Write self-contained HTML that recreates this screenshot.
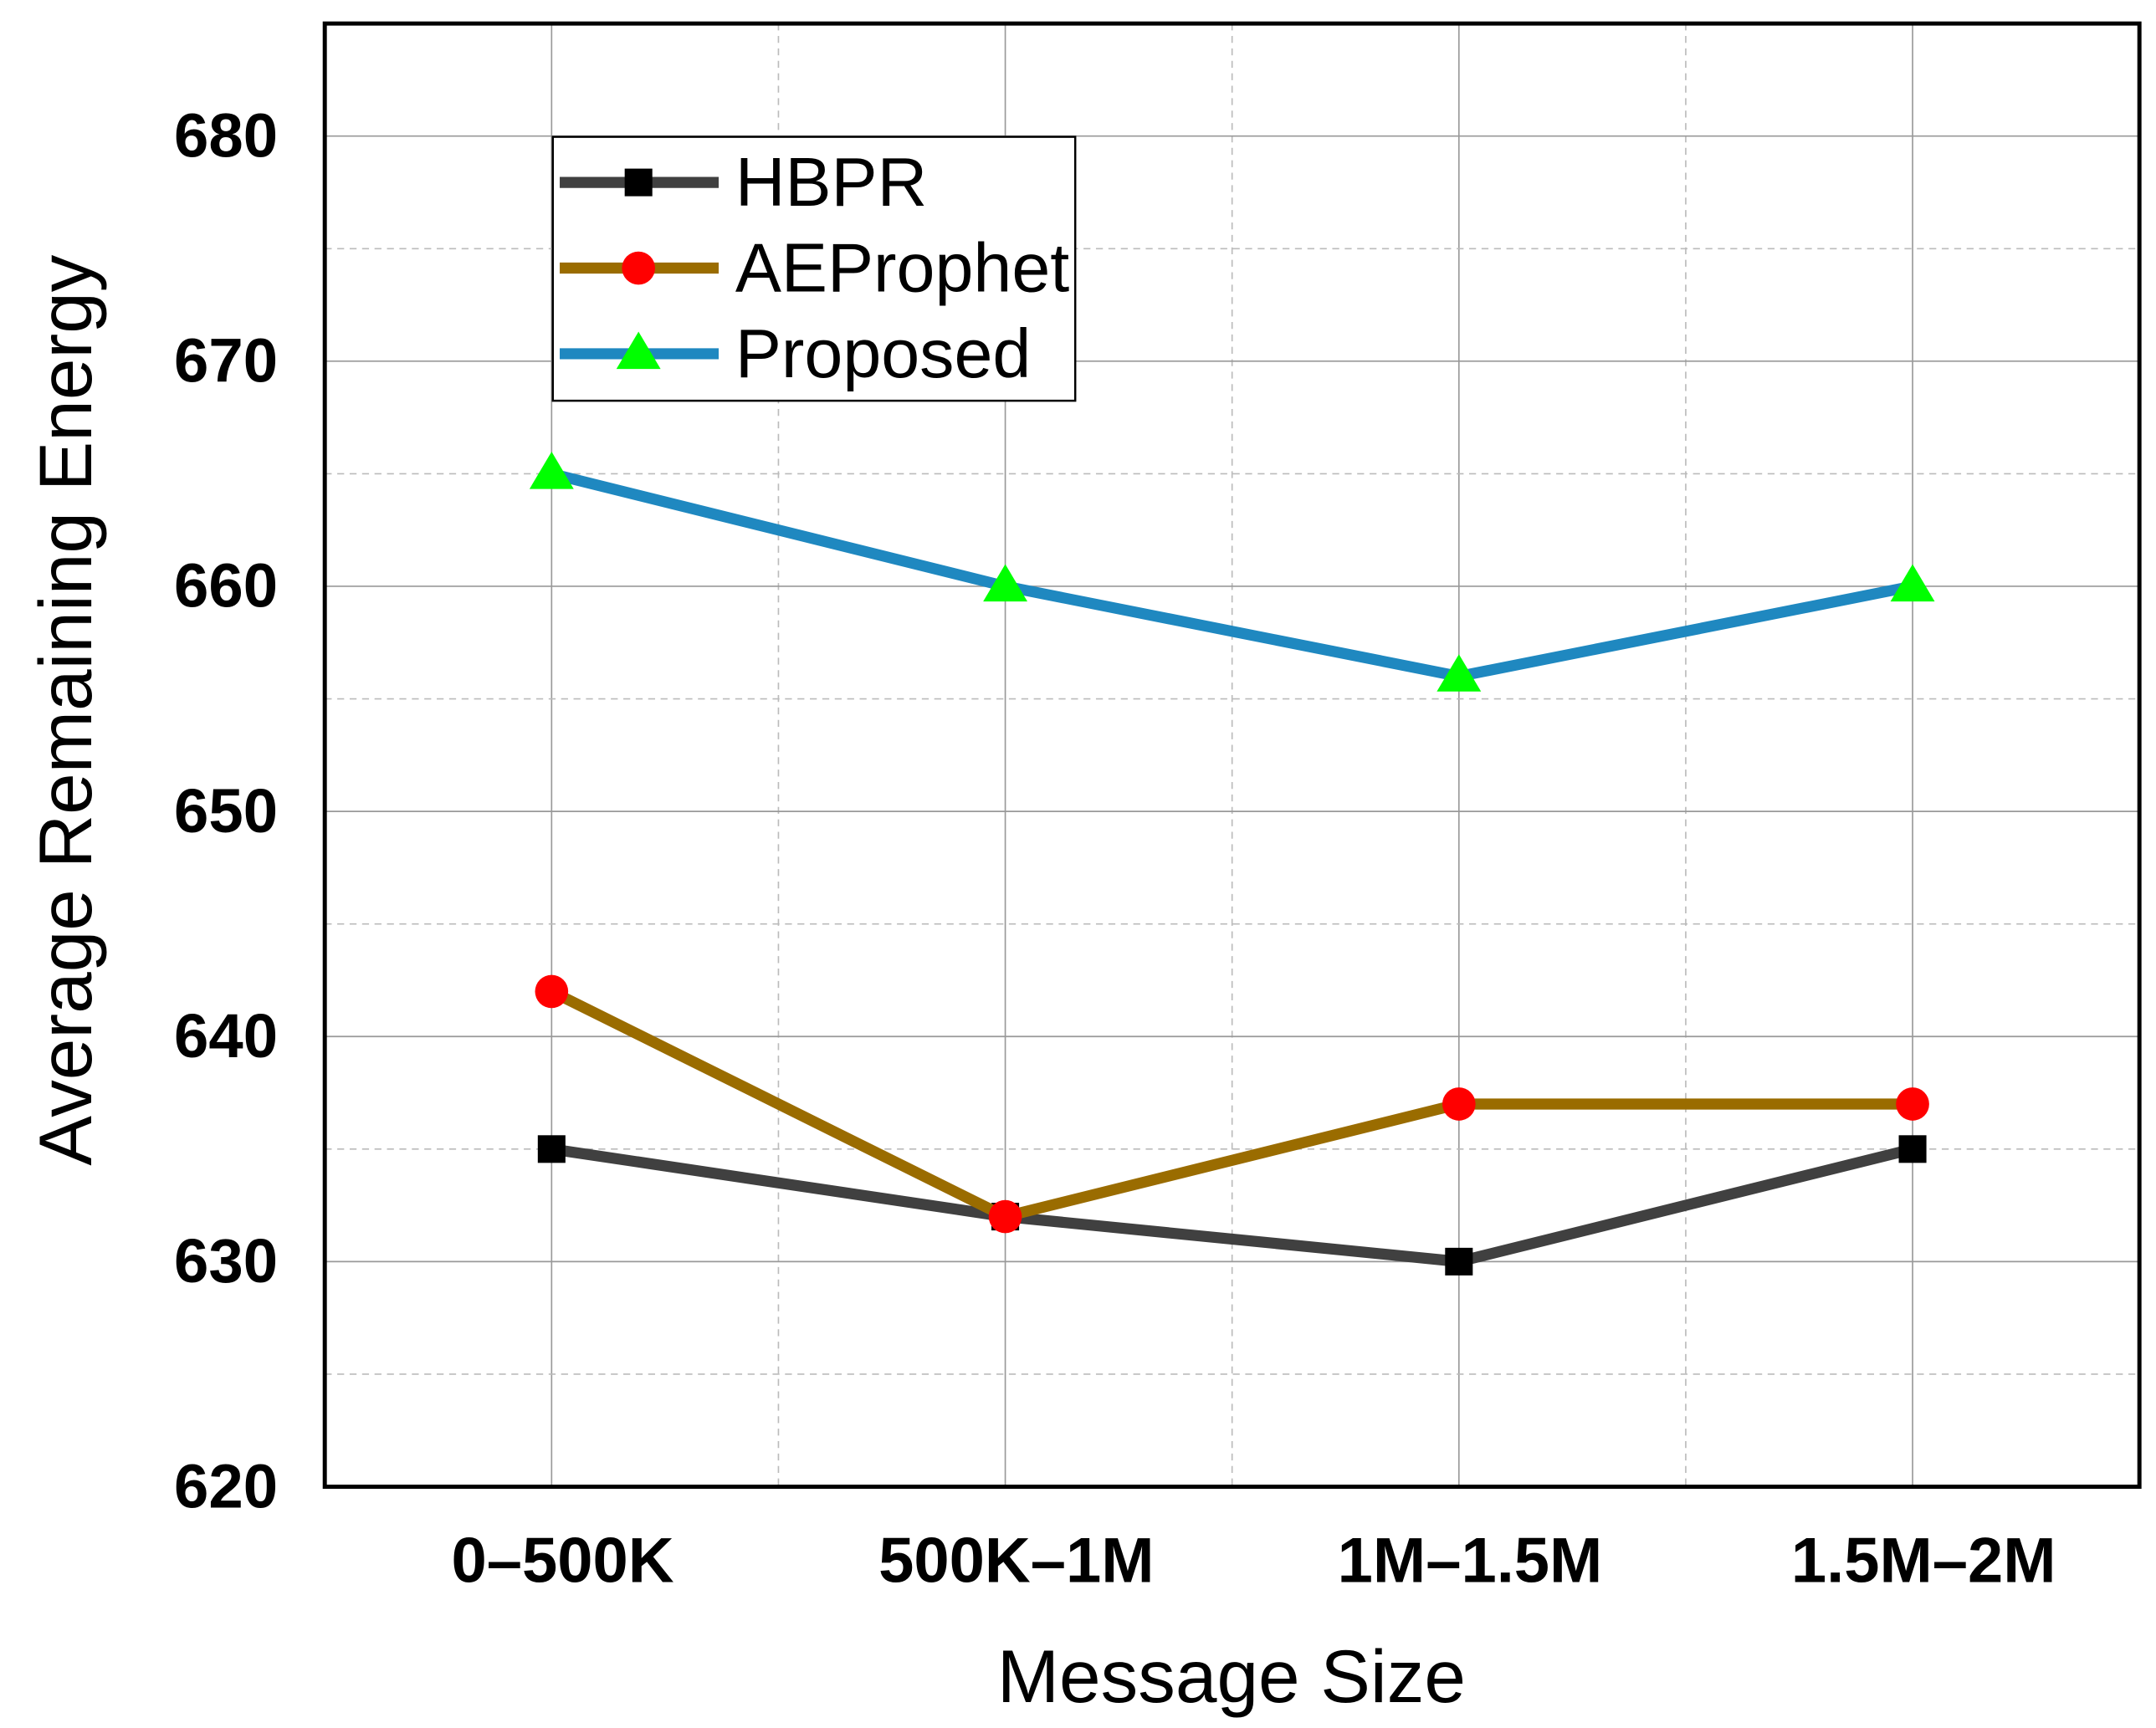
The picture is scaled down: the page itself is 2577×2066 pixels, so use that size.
<!DOCTYPE html>
<html><head><meta charset="utf-8"><style>
html,body{margin:0;padding:0;background:#fff;}
svg{display:block;font-family:"Liberation Sans",Arial,sans-serif;}
</style></head><body>
<svg id="chart" width="2577" height="2066" viewBox="0 0 1560 1250.6">
<g id="grid"></g>
<g id="series"></g>
<rect x="235" y="17" width="1313" height="1059" fill="none" stroke="#000" stroke-width="3"/>
<g id="yticks"></g>
<g id="xticks"></g>
<text x="66" y="514" transform="rotate(-90 66 514)" text-anchor="middle" font-size="54">Average Remaining Energy</text>
<text x="891" y="1232" text-anchor="middle" font-size="54">Message Size</text>
<g id="legend">
<rect x="400" y="99" width="378" height="191" fill="#fff" stroke="#000" stroke-width="1.5"/>
</g>
</svg>
<script>
const categories = ["0\u2013500K","500K\u20131M","1M\u20131.5M","1.5M\u20132M"];
const seriesNames = ["HBPR","AEProphet","Proposed"];
const hbpr = [635,632,630,635];
const aeprophet = [642,632,637,637];
const proposed = [665,660,656,660];
const yTicks = [620,630,640,650,660,670,680];

const NS="http://www.w3.org/2000/svg";
const L=235,R=1548,T=17,B=1076,yMin=620,yMax=685;
const xs=i=>L+(i+0.5)*(R-L)/categories.length;
const ys=v=>B-(v-yMin)/(yMax-yMin)*(B-T);
function mk(tag,attrs,parent){const e=document.createElementNS(NS,tag);for(const k in attrs)e.setAttribute(k,attrs[k]);parent.appendChild(e);return e;}
const grid=document.getElementById('grid');
for(let i=0;i<categories.length;i++){
  const g=mk('line',{x1:xs(i),x2:xs(i),y1:T,y2:B,stroke:'#999','stroke-width':1},grid);
  
  
  if(i<categories.length-1){const m=mk('line',{x1:xs(i+0.5),x2:xs(i+0.5),y1:T,y2:B,stroke:'#bbb','stroke-width':1,'stroke-dasharray':'5,4'},grid);
  
  }
}
const yt=document.getElementById('yticks');
yTicks.forEach((v,i)=>{
  if(v>yMin){const g=mk('line',{x1:L,x2:R,y1:ys(v),y2:ys(v),stroke:'#999','stroke-width':1},grid);
  
  }
  const m=mk('line',{x1:L,x2:R,y1:ys(v+5),y2:ys(v+5),stroke:'#bbb','stroke-width':1,'stroke-dasharray':'5,4'},grid);
  
  
  const t=mk('text',{x:201,y:ys(v)+15,'text-anchor':'end','font-size':45,'font-weight':'bold'},yt);
  t.textContent=v;
  
  
});
const xt=document.getElementById('xticks');
categories.forEach((c,i)=>{
  const t=mk('text',{x:xs(i)+8,y:1145,'text-anchor':'middle','font-size':46,'font-weight':'bold'},xt);
  t.textContent=c;
  
  
});
const colors=['#404040','#9a6c00','#1f88c0'];
const data=[hbpr,aeprophet,proposed];
const sg=document.getElementById('series');
function marker(k,x,y,p){
  let e;
  if(k===0)e=mk('rect',{x:x-10,y:y-10,width:20,height:20,fill:'#000'},p);
  else if(k===1)e=mk('circle',{cx:x,cy:y,r:12,fill:'#ff0000'},p);
  else e=mk('polygon',{points:`${x},${y-16} ${x+16},${y+11} ${x-16},${y+11}`,fill:'#00ff00'},p);
  return e;
}
data.forEach((d,k)=>{
  const g=mk('g',{},sg);
  
  
  const pl=mk('polyline',{points:d.map((v,i)=>xs(i)+','+ys(v)).join(' '),fill:'none',stroke:colors[k],'stroke-width':8,'stroke-linejoin':'round'},g);
  
  
  d.forEach((v,i)=>{const m=marker(k,xs(i),ys(v),g);
    
    });
});
const lg=document.getElementById('legend');
seriesNames.forEach((n,k)=>{
  const y=132+k*62;
  const e=mk('g',{},lg);
  
  
  mk('line',{x1:405,x2:520,y1:y,y2:y,stroke:colors[k],'stroke-width':8},e);
  marker(k,462,y,e);
  const t=mk('text',{x:532,y:y+17,'font-size':50},e);
  t.textContent=n;
});
</script>
</body></html>
